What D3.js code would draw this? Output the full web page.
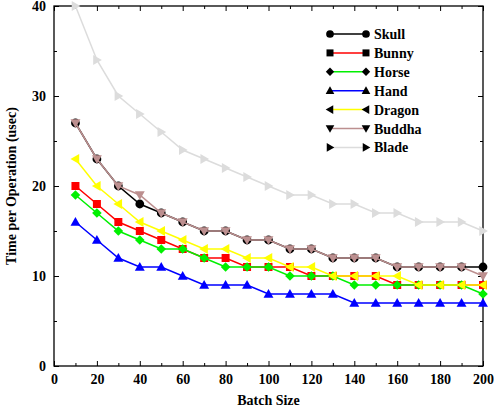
<!DOCTYPE html>
<html><head><meta charset="utf-8">
<script src="https://cdn.jsdelivr.net/npm/d3@7"></script>
<style>body{margin:0;background:#fff}</style>
</head><body>
<script>
const batchSizes = [10,20,30,40,50,60,70,80,90,100,110,120,130,140,150,160,170,180,190,200];
const skull  = [27,23,20,18,17,16,15,15,14,14,13,13,12,12,12,11,11,11,11,11];
const bunny  = [20,18,16,15,14,13,12,12,11,11,11,10,10,10,10,9,9,9,9,9];
const horse  = [19,17,15,14,13,13,12,11,11,11,10,10,10,9,9,9,9,9,9,8];
const hand   = [16,14,12,11,11,10,9,9,9,8,8,8,8,7,7,7,7,7,7,7];
const dragon = [23,20,18,16,15,14,13,13,12,12,11,11,10,10,10,10,9,9,9,9];
const buddha = [27,23,20,19,17,16,15,15,14,14,13,13,12,12,12,11,11,11,11,10];
const blade  = [40,34,30,28,26,24,23,22,21,20,19,19,18,18,17,17,16,16,16,15];
const seriesNames = ["Skull","Bunny","Horse","Hand","Dragon","Buddha","Blade"];
const seriesValues = [skull,bunny,horse,hand,dragon,buddha,blade];
const seriesColors = ["#000000","#ff0000","#00f000","#0000ff","#ffff00","#bc8f8f","#dcdcdc"];
const seriesMarkers = ["circle","square","diamond","up","left","down","right"];
const xTicks = [0,20,40,60,80,100,120,140,160,180,200];
const yTicks = [0,5,10,15,20,25,30,35,40];

const FONT='"Liberation Serif","Times New Roman",Times,serif';
const W=494,H=413, L=54, R=483, T=6, B=366;
const svg=d3.select("body").append("svg").attr("width",W).attr("height",H);
const x=d3.scaleLinear().domain([0,200]).range([L,R]);
const y=d3.scaleLinear().domain([0,40]).range([B,T]);

function marker(type,s){
  const p=d3.path();
  if(type==="circle"){p.arc(0,0,s*0.55,0,2*Math.PI);}
  else if(type==="square"){p.rect(-s/2,-s/2,s,s);}
  else if(type==="diamond"){const r=s*0.6;p.moveTo(0,-r);p.lineTo(r,0);p.lineTo(0,r);p.lineTo(-r,0);p.closePath();}
  else if(type==="up"){const r=s*0.62;p.moveTo(0,-r);p.lineTo(r,r*0.75);p.lineTo(-r,r*0.75);p.closePath();}
  else if(type==="down"){const r=s*0.62;p.moveTo(0,r);p.lineTo(r,-r*0.75);p.lineTo(-r,-r*0.75);p.closePath();}
  else if(type==="left"){const r=s*0.62;p.moveTo(-r,0);p.lineTo(r*0.75,-r);p.lineTo(r*0.75,r);p.closePath();}
  else if(type==="right"){const r=s*0.62;p.moveTo(r,0);p.lineTo(-r*0.75,-r);p.lineTo(-r*0.75,r);p.closePath();}
  return p.toString();
}

const fs=14;
function ax(gen,tx,ty,vals,size,labels){
  const g=svg.append("g").attr("transform",`translate(${tx},${ty})`)
    .call(gen.tickValues(vals).tickSizeInner(-size).tickSizeOuter(0).tickPadding(8));
  if(!labels) g.selectAll(".tick text").remove();
  return g;
}
const xMinor=d3.range(10,200,20), yMajor=yTicks.filter((d,i)=>i%2===0), yMinor=yTicks.filter((d,i)=>i%2===1);
ax(d3.axisBottom(x),0,B,xTicks,5,true);
ax(d3.axisBottom(x),0,B,xMinor,3,false);
ax(d3.axisTop(x),0,T,xTicks,5,false);
ax(d3.axisTop(x),0,T,xMinor,3,false);
ax(d3.axisLeft(y),L,0,yMajor,5,true);
ax(d3.axisLeft(y),L,0,yMinor,3,false);
ax(d3.axisRight(y),R,0,yMajor,5,false);
ax(d3.axisRight(y),R,0,yMinor,3,false);
svg.selectAll(".domain").remove();
svg.selectAll(".tick line").attr("stroke","#000");
svg.selectAll(".tick text").attr("fill","#000")
  .style("font-family",FONT).style("font-weight","bold").style("font-size",fs+"px");

svg.append("rect").attr("x",L).attr("y",T).attr("width",R-L).attr("height",B-T)
  .attr("fill","none").attr("stroke","#000").attr("stroke-width",1.3);

const line=d3.line().x((d,i)=>x(batchSizes[i])).y(d=>y(d));
seriesValues.forEach((vals,k)=>{
  const g=svg.append("g");
  g.append("path").datum(vals).attr("d",line).attr("fill","none")
    .attr("stroke",seriesColors[k]).attr("stroke-width",1.5);
  g.selectAll("path.m").data(vals).join("path").attr("class","m")
    .attr("transform",(d,i)=>`translate(${x(batchSizes[i])},${y(d)})`)
    .attr("d",marker(seriesMarkers[k],8)).attr("fill",seriesColors[k]);
});

function txt(sel){return sel.style("font-family",FONT).style("font-weight","bold").style("font-size",fs+"px").attr("fill","#000");}
const lg=svg.append("g");
seriesNames.forEach((n,k)=>{
  const yy=34+k*18.9;
  lg.append("line").attr("x1",330).attr("x2",366).attr("y1",yy).attr("y2",yy)
    .attr("stroke",seriesColors[k]).attr("stroke-width",1.5);
  [330,366].forEach(xx=>lg.append("path").attr("transform",`translate(${xx},${yy})`)
    .attr("d",marker(seriesMarkers[k],7)).attr("fill","#000"));
  txt(lg.append("text").attr("x",374).attr("y",yy+5).text(n));
});

txt(svg.append("text").attr("x",(L+R)/2).attr("y",405).attr("text-anchor","middle").text("Batch Size"));
txt(svg.append("text").attr("transform",`translate(16,${(T+B)/2}) rotate(-90)`).attr("text-anchor","middle").text("Time per Operation (usec)"));
</script>
</body></html>
